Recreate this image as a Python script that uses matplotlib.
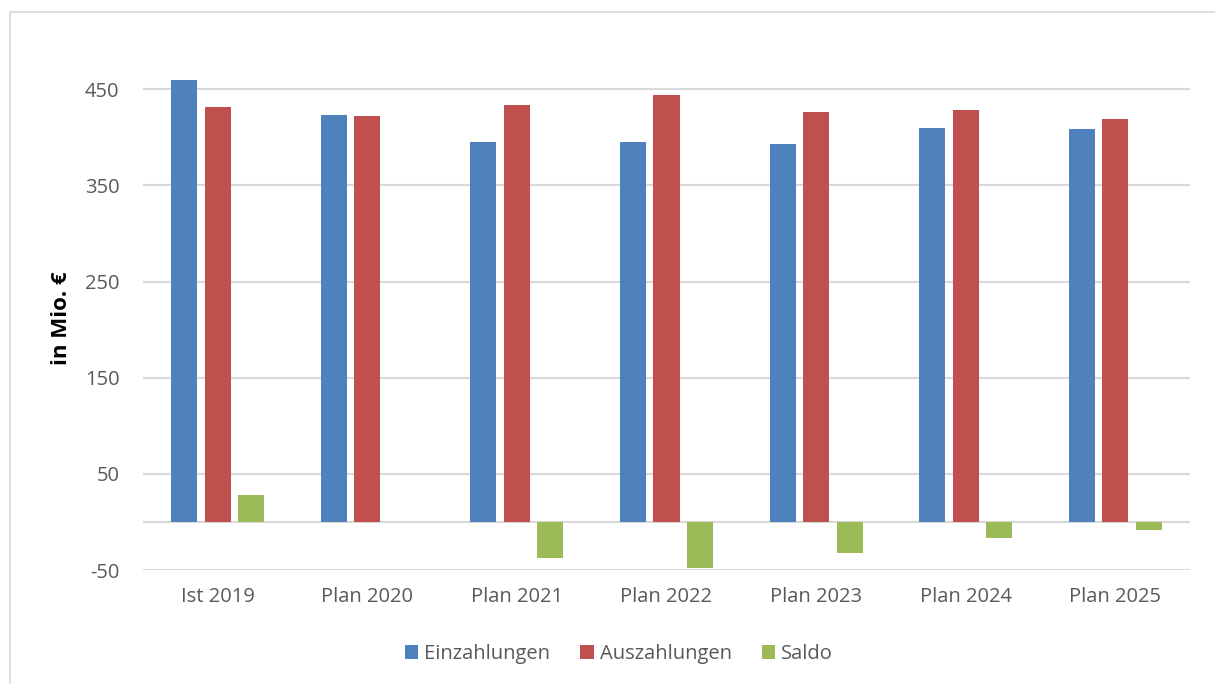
import matplotlib
matplotlib.use('Agg')
from matplotlib import pyplot as plt
from matplotlib.patches import Rectangle
import numpy as np

categories = ['Ist 2019', 'Plan 2020', 'Plan 2021', 'Plan 2022',
              'Plan 2023', 'Plan 2024', 'Plan 2025']
einzahlungen = [460, 423, 395, 395, 393, 410, 409]
auszahlungen = [432, 422, 434, 444, 426, 428, 419]
saldo = [28, 0, -37, -48, -32, -17, -8]
yticks = [-50, 50, 150, 250, 350, 450]

plt.rcParams['font.family'] = ['Open Sans', 'DejaVu Sans']
plt.rcParams['axes.unicode_minus'] = False
grey = '#595959'

fig = plt.figure(figsize=(12.15, 6.84), dpi=100)
ax = fig.add_axes([143 / 1215, 1 - 570 / 684, 1047 / 1215, 524 / 684])

x = np.arange(len(categories))
w = 0.174
off = 0.224
ax.bar(x - off, einzahlungen, w, color='#4F81BD', linewidth=0,
       label='Einzahlungen', zorder=3)
ax.bar(x, auszahlungen, w, color='#C0504D', linewidth=0,
       label='Auszahlungen', zorder=3)
ax.bar(x + off, saldo, w, color='#9BBB59', linewidth=0,
       label='Saldo', zorder=3)

ax.set_xlim(-0.5, len(categories) - 0.5)
ax.set_ylim(-50, 495)
ax.set_yticks(yticks)
ax.set_xticks(x)
ax.set_xticklabels(categories)
ax.grid(axis='y', color='#d9d9d9', linewidth=1.5, zorder=0)
ax.axhline(0, color='#d9d9d9', linewidth=1.5, zorder=1)
for s in ax.spines.values():
    s.set_visible(False)
ax.tick_params(axis='both', length=0, colors=grey, labelsize=14.5)
ax.tick_params(axis='x', pad=12)
ax.tick_params(axis='y', pad=17)

ax.set_ylabel('in Mio. €', fontsize=16, fontweight='bold', color='black')
ax.yaxis.set_label_coords(-0.068, 0.48)

leg = fig.legend(loc='center', bbox_to_anchor=(619 / 1215, 1 - 654 / 684),
                 ncol=3, frameon=False, fontsize=14.5, handlelength=0.65,
                 handleheight=0.65, handletextpad=0.3, columnspacing=1.5)
for t in leg.get_texts():
    t.set_color(grey)

fig.add_artist(Rectangle((10 / 1215, -0.01), 1.1, 1 - 12 / 684 + 0.01,
                         transform=fig.transFigure, fill=False,
                         edgecolor='#d9d9d9', linewidth=1.2))

fig.savefig('out.png', dpi=100)
